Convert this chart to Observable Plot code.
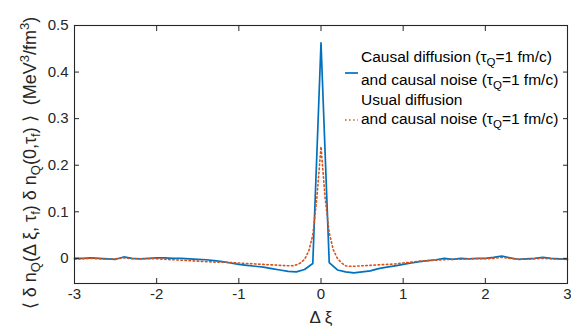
<!DOCTYPE html>
<html>
<head>
<meta charset="utf-8">
<script src="https://cdn.jsdelivr.net/npm/d3@7"></script>
<script src="https://cdn.jsdelivr.net/npm/@observablehq/plot@0.6"></script>
<style>
  html, body { margin: 0; padding: 0; background: #fff; }
  #chart svg { display: block; }
</style>
</head>
<body>
<div id="chart"></div>
<script>
// Causal diffusion + causal noise (blue, solid)
const xiCausal = [-3.0,-2.9,-2.8,-2.7,-2.6,-2.5,-2.4,-2.3,-2.2,-2.1,-2.0,-1.9,-1.8,-1.7,-1.6,-1.5,-1.4,-1.3,-1.2,-1.1,-1.0,-0.9,-0.8,-0.7,-0.6,-0.5,-0.4,-0.3,-0.2,-0.1,0.0,0.1,0.2,0.3,0.4,0.5,0.6,0.7,0.8,0.9,1.0,1.1,1.2,1.3,1.4,1.5,1.6,1.7,1.8,1.9,2.0,2.1,2.2,2.3,2.4,2.5,2.6,2.7,2.8,2.9,3.0];
const corrCausal = [0.000,0.000,0.001,0.000,-0.001,-0.002,0.003,0.000,-0.001,0.000,0.001,0.001,0.000,0.000,-0.001,-0.002,-0.003,-0.005,-0.007,-0.010,-0.013,-0.015,-0.017,-0.019,-0.022,-0.025,-0.028,-0.029,-0.024,-0.011,0.463,-0.009,-0.025,-0.029,-0.031,-0.029,-0.027,-0.022,-0.019,-0.016,-0.013,-0.010,-0.007,-0.005,-0.003,0.000,-0.002,0.000,-0.001,0.000,0.000,0.002,0.005,0.001,-0.002,-0.001,0.000,0.002,0.000,-0.001,-0.002];

// Usual diffusion + causal noise (red, dotted)
const xiUsual = [-3.0,-2.9,-2.8,-2.7,-2.6,-2.5,-2.4,-2.3,-2.2,-2.1,-2.0,-1.9,-1.8,-1.7,-1.6,-1.5,-1.4,-1.3,-1.2,-1.1,-1.0,-0.9,-0.8,-0.7,-0.6,-0.5,-0.4,-0.35,-0.3,-0.25,-0.2,-0.15,-0.1,-0.05,0.0,0.05,0.1,0.15,0.2,0.25,0.3,0.35,0.4,0.5,0.6,0.7,0.8,0.9,1.0,1.1,1.2,1.3,1.4,1.5,1.6,1.7,1.8,1.9,2.0,2.1,2.2,2.3,2.4,2.5,2.6,2.7,2.8,2.9,3.0];
const corrUsual = [-0.002,-0.001,0.000,-0.001,-0.002,-0.001,0.001,-0.001,-0.001,-0.001,-0.001,-0.002,-0.003,-0.004,-0.005,-0.006,-0.007,-0.008,-0.008,-0.009,-0.010,-0.011,-0.012,-0.013,-0.014,-0.015,-0.016,-0.016,-0.014,-0.010,-0.002,0.015,0.050,0.130,0.240,0.130,0.055,0.018,0.000,-0.010,-0.016,-0.017,-0.017,-0.016,-0.015,-0.014,-0.013,-0.012,-0.010,-0.008,-0.006,-0.005,-0.004,-0.003,-0.002,-0.002,-0.001,-0.001,-0.001,0.000,0.002,0.000,-0.002,-0.002,-0.001,0.000,-0.001,-0.002,-0.002];

const xTicks = [-3,-2,-1,0,1,2,3];
const yTicks = [0,0.1,0.2,0.3,0.4,0.5];
const yTickLabels = ["0","0.1","0.2","0.3","0.4","0.5"];

const causal = xiCausal.map((x, i) => ({x, y: corrCausal[i]}));
const usual = xiUsual.map((x, i) => ({x, y: corrUsual[i]}));

const blue = "#0072BD", red = "#D95319", axisColor = "#262626";
const font = "'Liberation Sans', Arial, Helvetica, sans-serif";

const plot = Plot.plot({
  width: 571,
  height: 326,
  marginLeft: 74,
  marginRight: 4,
  marginTop: 25,
  marginBottom: 43,
  style: {fontFamily: font, fontSize: "15px", background: "#fff", color: axisColor, overflow: "visible"},
  x: {domain: [-3, 3]},
  y: {domain: [-0.054, 0.5]},
  marks: [
    Plot.line(causal, {x: "x", y: "y", stroke: blue, strokeWidth: 1.7}),
    Plot.line(usual, {x: "x", y: "y", stroke: red, strokeWidth: 1.6, strokeDasharray: "1.5,2.6"}),
    Plot.frame({stroke: axisColor, strokeWidth: 1.1}),
    Plot.axisX({anchor: "bottom", ticks: xTicks, tickSize: -5, tickPadding: 10, tickFormat: d => String(d), label: null}),
    Plot.axisX({anchor: "top", ticks: xTicks, tickSize: -5, tickFormat: () => "", label: null}),
    Plot.axisY({anchor: "left", ticks: yTicks, tickSize: -5, tickPadding: 11, tickFormat: d => yTickLabels[yTicks.indexOf(d)], label: null}),
    Plot.axisY({anchor: "right", ticks: yTicks, tickSize: -5, tickFormat: () => "", label: null})
  ]
});

document.getElementById("chart").appendChild(plot);

const svg = d3.select(plot);

// x-axis label
svg.append("text")
  .attr("x", 321).attr("y", 323)
  .attr("text-anchor", "middle")
  .attr("font-family", font).attr("font-size", 17).attr("fill", axisColor)
  .text("Δ ξ");

// y-axis label with sub/superscripts
const yl = svg.append("text")
  .attr("transform", "translate(36,163) rotate(-90)")
  .attr("text-anchor", "middle")
  .attr("font-family", font).attr("font-size", 18).attr("fill", axisColor)
  .style("white-space", "pre");
const parts = [
  ["⟨ δ n", 0], ["Q", 1], ["(Δ ξ, τ", 0], ["f", 1], [") δ n", 0], ["Q", 1],
  ["(0,τ", 0], ["f", 1], [") ⟩  (MeV", 0], ["3", -1], ["/fm", 0], ["3", -1], [")", 0]
];
let shift = 0;
for (const [t, s] of parts) {
  const target = s === 1 ? 4 : s === -1 ? -7 : 0;
  const ts = yl.append("tspan").attr("dy", target - shift).text(t);
  if (s !== 0) ts.attr("font-size", 13);
  shift = target;
}

// legend
const leg = svg.append("g").attr("font-family", font).attr("font-size", 15.5).attr("fill", "#000").attr("text-anchor", "start");
function legText(y, pieces) {
  const t = leg.append("text").attr("x", 361).attr("y", y).attr("text-anchor", "start").style("white-space", "pre");
  let sh = 0;
  for (const [s, k] of pieces) {
    const target = k === 1 ? 4 : 0;
    const ts = t.append("tspan").attr("dy", target - sh).text(s);
    if (k === 1) ts.attr("font-size", 11.5);
    sh = target;
  }
}
legText(62, [["Causal diffusion (τ", 0], ["Q", 1], ["=1 fm/c)", 0]]);
legText(85, [["and causal noise (τ", 0], ["Q", 1], ["=1 fm/c)", 0]]);
legText(105, [["Usual diffusion", 0]]);
legText(124, [["and causal noise (τ", 0], ["Q", 1], ["=1 fm/c)", 0]]);
leg.append("line").attr("x1", 345).attr("x2", 358).attr("y1", 73).attr("y2", 73)
  .attr("stroke", blue).attr("stroke-width", 1.7);
leg.append("line").attr("x1", 345).attr("x2", 358).attr("y1", 120).attr("y2", 120)
  .attr("stroke", red).attr("stroke-width", 1.6).attr("stroke-dasharray", "1.5,2.6");
</script>
</body>
</html>
